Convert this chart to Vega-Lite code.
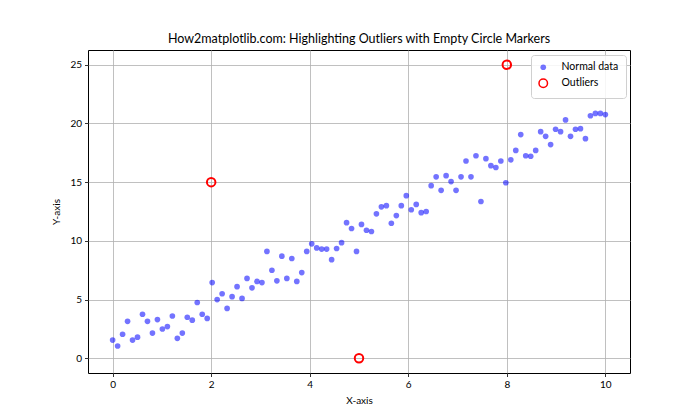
{
  "$schema": "https://vega.github.io/schema/vega-lite/v6.json",
  "width": 542,
  "height": 323,
  "autosize": "none",
  "padding": {"left": 88, "top": 50, "right": 70, "bottom": 47},
  "background": "white",
  "config": {
    "font": "Lato",
    "view": {"stroke": "black", "strokeWidth": 1},
    "axis": {
      "gridColor": "#b0b0b0",
      "gridWidth": 0.8,
      "domain": false,
      "tickColor": "black",
      "tickSize": 3.5,
      "tickWidth": 0.8,
      "labelColor": "black",
      "labelFontSize": 10,
      "labelPadding": 3,
      "titleColor": "black",
      "titleFontSize": 10,
      "titleFontWeight": "normal"
    },
    "legend": {
      "orient": "none",
      "legendX": 443,
      "legendY": 5,
      "padding": 7,
      "fillColor": "rgba(255,255,255,0.85)",
      "strokeColor": "#d0d0d0",
      "cornerRadius": 3,
      "labelFontSize": 10.5,
      "labelColor": "black",
      "labelOffset": 13,
      "rowPadding": 2
    },
    "title": {"fontSize": 12.5, "fontWeight": "normal", "color": "black", "offset": 5}
  },
  "title": {"text": "How2matplotlib.com: Highlighting Outliers with Empty Circle Markers"},
  "data": {
    "values": [
      {"x": 0.0000, "y": 1.55, "series": "Normal data"},
      {"x": 0.1010, "y": 1.05, "series": "Normal data"},
      {"x": 0.2020, "y": 2.05, "series": "Normal data"},
      {"x": 0.3030, "y": 3.15, "series": "Normal data"},
      {"x": 0.4040, "y": 1.55, "series": "Normal data"},
      {"x": 0.5051, "y": 1.8, "series": "Normal data"},
      {"x": 0.6061, "y": 3.75, "series": "Normal data"},
      {"x": 0.7071, "y": 3.15, "series": "Normal data"},
      {"x": 0.8081, "y": 2.15, "series": "Normal data"},
      {"x": 0.9091, "y": 3.3, "series": "Normal data"},
      {"x": 1.0101, "y": 2.5, "series": "Normal data"},
      {"x": 1.1111, "y": 2.7, "series": "Normal data"},
      {"x": 1.2121, "y": 3.6, "series": "Normal data"},
      {"x": 1.3131, "y": 1.7, "series": "Normal data"},
      {"x": 1.4141, "y": 2.15, "series": "Normal data"},
      {"x": 1.5152, "y": 3.5, "series": "Normal data"},
      {"x": 1.6162, "y": 3.25, "series": "Normal data"},
      {"x": 1.7172, "y": 4.75, "series": "Normal data"},
      {"x": 1.8182, "y": 3.75, "series": "Normal data"},
      {"x": 1.9192, "y": 3.4, "series": "Normal data"},
      {"x": 2.0202, "y": 6.45, "series": "Normal data"},
      {"x": 2.1212, "y": 5.0, "series": "Normal data"},
      {"x": 2.2222, "y": 5.5, "series": "Normal data"},
      {"x": 2.3232, "y": 4.25, "series": "Normal data"},
      {"x": 2.4242, "y": 5.25, "series": "Normal data"},
      {"x": 2.5253, "y": 6.1, "series": "Normal data"},
      {"x": 2.6263, "y": 5.1, "series": "Normal data"},
      {"x": 2.7273, "y": 6.8, "series": "Normal data"},
      {"x": 2.8283, "y": 6.0, "series": "Normal data"},
      {"x": 2.9293, "y": 6.55, "series": "Normal data"},
      {"x": 3.0303, "y": 6.45, "series": "Normal data"},
      {"x": 3.1313, "y": 9.1, "series": "Normal data"},
      {"x": 3.2323, "y": 7.5, "series": "Normal data"},
      {"x": 3.3333, "y": 6.6, "series": "Normal data"},
      {"x": 3.4343, "y": 8.7, "series": "Normal data"},
      {"x": 3.5354, "y": 6.8, "series": "Normal data"},
      {"x": 3.6364, "y": 8.5, "series": "Normal data"},
      {"x": 3.7374, "y": 6.55, "series": "Normal data"},
      {"x": 3.8384, "y": 7.3, "series": "Normal data"},
      {"x": 3.9394, "y": 9.1, "series": "Normal data"},
      {"x": 4.0404, "y": 9.75, "series": "Normal data"},
      {"x": 4.1414, "y": 9.4, "series": "Normal data"},
      {"x": 4.2424, "y": 9.3, "series": "Normal data"},
      {"x": 4.3434, "y": 9.3, "series": "Normal data"},
      {"x": 4.4444, "y": 8.4, "series": "Normal data"},
      {"x": 4.5455, "y": 9.35, "series": "Normal data"},
      {"x": 4.6465, "y": 9.85, "series": "Normal data"},
      {"x": 4.7475, "y": 11.55, "series": "Normal data"},
      {"x": 4.8485, "y": 11.05, "series": "Normal data"},
      {"x": 4.9495, "y": 9.1, "series": "Normal data"},
      {"x": 5.0505, "y": 11.4, "series": "Normal data"},
      {"x": 5.1515, "y": 10.9, "series": "Normal data"},
      {"x": 5.2525, "y": 10.8, "series": "Normal data"},
      {"x": 5.3535, "y": 12.3, "series": "Normal data"},
      {"x": 5.4545, "y": 12.9, "series": "Normal data"},
      {"x": 5.5556, "y": 13.0, "series": "Normal data"},
      {"x": 5.6566, "y": 11.5, "series": "Normal data"},
      {"x": 5.7576, "y": 12.15, "series": "Normal data"},
      {"x": 5.8586, "y": 13.0, "series": "Normal data"},
      {"x": 5.9596, "y": 13.85, "series": "Normal data"},
      {"x": 6.0606, "y": 12.65, "series": "Normal data"},
      {"x": 6.1616, "y": 13.1, "series": "Normal data"},
      {"x": 6.2626, "y": 12.4, "series": "Normal data"},
      {"x": 6.3636, "y": 12.5, "series": "Normal data"},
      {"x": 6.4646, "y": 14.7, "series": "Normal data"},
      {"x": 6.5657, "y": 15.45, "series": "Normal data"},
      {"x": 6.6667, "y": 14.3, "series": "Normal data"},
      {"x": 6.7677, "y": 15.55, "series": "Normal data"},
      {"x": 6.8687, "y": 15.05, "series": "Normal data"},
      {"x": 6.9697, "y": 14.3, "series": "Normal data"},
      {"x": 7.0707, "y": 15.45, "series": "Normal data"},
      {"x": 7.1717, "y": 16.8, "series": "Normal data"},
      {"x": 7.2727, "y": 15.45, "series": "Normal data"},
      {"x": 7.3737, "y": 17.25, "series": "Normal data"},
      {"x": 7.4747, "y": 13.35, "series": "Normal data"},
      {"x": 7.5758, "y": 17.0, "series": "Normal data"},
      {"x": 7.6768, "y": 16.4, "series": "Normal data"},
      {"x": 7.7778, "y": 16.25, "series": "Normal data"},
      {"x": 7.8788, "y": 16.8, "series": "Normal data"},
      {"x": 7.9798, "y": 14.95, "series": "Normal data"},
      {"x": 8.0808, "y": 16.9, "series": "Normal data"},
      {"x": 8.1818, "y": 17.7, "series": "Normal data"},
      {"x": 8.2828, "y": 19.05, "series": "Normal data"},
      {"x": 8.3838, "y": 17.25, "series": "Normal data"},
      {"x": 8.4848, "y": 17.2, "series": "Normal data"},
      {"x": 8.5859, "y": 17.7, "series": "Normal data"},
      {"x": 8.6869, "y": 19.3, "series": "Normal data"},
      {"x": 8.7879, "y": 18.9, "series": "Normal data"},
      {"x": 8.8889, "y": 18.2, "series": "Normal data"},
      {"x": 8.9899, "y": 19.5, "series": "Normal data"},
      {"x": 9.0909, "y": 19.3, "series": "Normal data"},
      {"x": 9.1919, "y": 20.3, "series": "Normal data"},
      {"x": 9.2929, "y": 18.9, "series": "Normal data"},
      {"x": 9.3939, "y": 19.5, "series": "Normal data"},
      {"x": 9.4949, "y": 19.55, "series": "Normal data"},
      {"x": 9.5960, "y": 18.7, "series": "Normal data"},
      {"x": 9.6970, "y": 20.65, "series": "Normal data"},
      {"x": 9.7980, "y": 20.85, "series": "Normal data"},
      {"x": 9.8990, "y": 20.85, "series": "Normal data"},
      {"x": 10.0, "y": 20.75, "series": "Normal data"},
      {"x": 2, "y": 15, "series": "Outliers"},
      {"x": 5, "y": 0, "series": "Outliers"},
      {"x": 8, "y": 25, "series": "Outliers"}
    ]
  },
  "mark": {"type": "point", "shape": "circle", "strokeWidth": 2, "opacity": 1},
  "encoding": {
    "x": {
      "field": "x", "type": "quantitative",
      "scale": {"domain": [-0.5, 10.5], "nice": false, "zero": false},
      "axis": {"values": [0, 2, 4, 6, 8, 10], "title": "X-axis", "titlePadding": 6}
    },
    "y": {
      "field": "y", "type": "quantitative",
      "scale": {"domain": [-1.25, 26.25], "nice": false, "zero": false},
      "axis": {"values": [0, 5, 10, 15, 20, 25], "title": "Y-axis", "titlePadding": 8}
    },
    "fill": {
      "field": "series", "type": "nominal",
      "scale": {"domain": ["Normal data", "Outliers"], "range": ["rgba(0,0,255,0.55)", "rgba(0,0,0,0)"]},
      "legend": {"title": null}
    },
    "stroke": {
      "field": "series", "type": "nominal",
      "scale": {"domain": ["Normal data", "Outliers"], "range": ["rgba(0,0,0,0)", "#ff0000"]},
      "legend": {"title": null}
    },
    "size": {
      "field": "series", "type": "nominal",
      "scale": {"domain": ["Normal data", "Outliers"], "range": [32, 72]},
      "legend": {"title": null}
    }
  }
}
